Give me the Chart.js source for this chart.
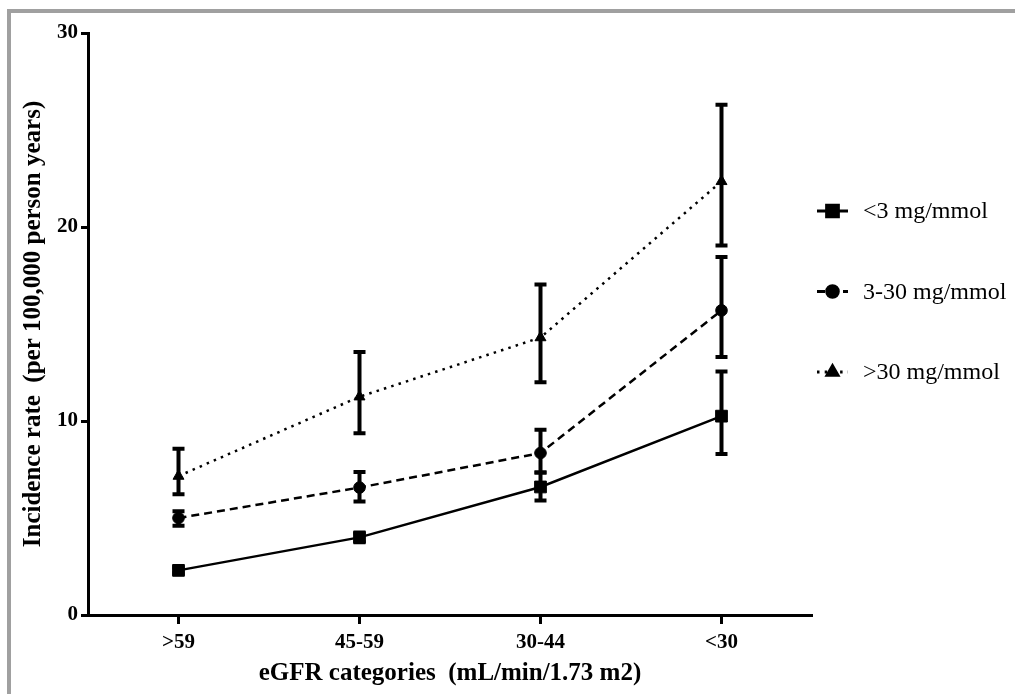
<!DOCTYPE html>
<html>
<head>
<meta charset="utf-8">
<script src="https://cdn.jsdelivr.net/npm/chart.js"></script>
<style>
  html, body { margin: 0; padding: 0; background: #fff; }
  #wrap { position: relative; width: 1015px; height: 694px; overflow: hidden; }
  #frame { position: absolute; left: 7px; top: 9px; width: 1020px; height: 700px;
           border-top: 4px solid #a0a0a0; border-left: 4px solid #a0a0a0; }
  canvas { position: absolute; left: 0; top: 0; }
</style>
</head>
<body>
<div id="wrap">
  <div id="frame"></div>
  <canvas id="chart" width="1015" height="694"></canvas>
</div>
<script>
const categories = [">59", "45-59", "30-44", "<30"];
const seriesNames = ["<3 mg/mmol", "3-30 mg/mmol", ">30 mg/mmol"];

const lowRate = [2.3, 4.0, 6.6, 10.25];
const lowLower = [2.15, 3.75, 5.9, 8.3];
const lowUpper = [2.45, 4.25, 7.35, 12.55];

const midRate = [5.0, 6.57, 8.35, 15.7];
const midLower = [4.6, 5.85, 7.35, 13.3];
const midUpper = [5.35, 7.37, 9.55, 18.46];

const highRate = [7.16, 11.25, 14.3, 22.35];
const highLower = [6.22, 9.37, 12.0, 19.05];
const highUpper = [8.57, 13.56, 17.04, 26.3];

const yTicks = [0, 10, 20, 30];

const serif = "'Liberation Serif', 'Times New Roman', serif";

// vertical error bars with caps, placed by the chart's own scales
const errorBars = {
  id: "errorBars",
  beforeDatasetsDraw(chart) {
    const ctx = chart.ctx;
    const x = chart.scales.x;
    const y = chart.scales.y;
    ctx.save();
    ctx.strokeStyle = "#000";
    ctx.lineWidth = 4;
    ctx.setLineDash([]);
    chart.data.datasets.forEach((ds) => {
      ds.data.forEach((v, i) => {
        const px = x.getPixelForValue(i);
        const top = y.getPixelForValue(ds.upper[i]);
        const bot = y.getPixelForValue(ds.lower[i]);
        ctx.beginPath();
        ctx.moveTo(px, top);
        ctx.lineTo(px, bot);
        ctx.moveTo(px - 6, top);
        ctx.lineTo(px + 6, top);
        ctx.moveTo(px - 6, bot);
        ctx.lineTo(px + 6, bot);
        ctx.stroke();
      });
    });
    ctx.restore();
  }
};

// legend to the right: short line sample with marker, then label
const sideLegend = {
  id: "sideLegend",
  afterDraw(chart) {
    const ctx = chart.ctx;
    ctx.save();
    chart.data.datasets.forEach((ds, i) => {
      const yy = 211 + i * 80.5;
      ctx.strokeStyle = "#000";
      ctx.lineWidth = 3;
      ctx.setLineDash(ds.borderDash || []);
      ctx.beginPath();
      ctx.moveTo(817, yy);
      ctx.lineTo(848, yy);
      ctx.stroke();
      ctx.setLineDash([]);
      ctx.fillStyle = "#000";
      Chart.helpers.drawPoint(ctx, {
        pointStyle: ds.pointStyle,
        radius: ds.pointRadius,
        borderWidth: 1,
        rotation: 0
      }, 832.5, yy);
      ctx.font = "24px " + serif;
      ctx.textBaseline = "middle";
      ctx.textAlign = "left";
      ctx.fillText(ds.label, 863, yy + 1);
    });
    ctx.restore();
  }
};

function makeSet(label, data, lower, upper, style, radius, dash) {
  return {
    label: label,
    data: data,
    lower: lower,
    upper: upper,
    borderColor: "#000",
    backgroundColor: "#000",
    borderWidth: 2.5,
    borderDash: dash,
    pointStyle: style,
    pointRadius: radius,
    pointBorderWidth: 1,
    pointBackgroundColor: "#000",
    pointBorderColor: "#000",
    tension: 0,
    fill: false
  };
}

new Chart(document.getElementById("chart"), {
  type: "line",
  data: {
    labels: categories,
    datasets: [
      makeSet(seriesNames[0], lowRate, lowLower, lowUpper, "rect", 8.3, []),
      makeSet(seriesNames[1], midRate, midLower, midUpper, "circle", 5.8, [8, 5]),
      makeSet(seriesNames[2], highRate, highLower, highUpper, "triangle", 6.3, [2.5, 5.2])
    ]
  },
  options: {
    responsive: false,
    animation: false,
    layout: { padding: { left: 0, top: 33, right: 203, bottom: 0 } },
    plugins: {
      legend: { display: false },
      tooltip: { enabled: false }
    },
    scales: {
      x: {
        type: "category",
        offset: true,
        afterFit: (s) => { s.height = 79; },
        grid: {
          offset: false,
          drawOnChartArea: false,
          tickLength: 9,
          tickWidth: 3,
          tickColor: "#000"
        },
        border: { color: "#000", width: 3 },
        ticks: {
          color: "#000",
          padding: 6,
          font: { family: serif, size: 21, weight: "bold" }
        },
        title: {
          display: true,
          text: "eGFR categories  (mL/min/1.73 m2)",
          color: "#000",
          padding: { top: 0, bottom: 5 },
          font: { family: serif, size: 25, weight: "bold" }
        }
      },
      y: {
        min: 0,
        max: 30,
        afterFit: (s) => { s.width = 88; },
        afterBuildTicks: (s) => { s.ticks = yTicks.map((v) => ({ value: v })); },
        grid: {
          drawOnChartArea: false,
          tickLength: 7,
          tickWidth: 3,
          tickColor: "#000"
        },
        border: { color: "#000", width: 3 },
        ticks: {
          color: "#000",
          padding: 3,
          font: { family: serif, size: 21, weight: "bold" }
        },
        title: {
          display: true,
          text: "Incidence rate  (per 100,000 person years)",
          color: "#000",
          padding: { top: 19, bottom: 0 },
          font: { family: serif, size: 25, weight: "bold" }
        }
      }
    }
  },
  plugins: [errorBars, sideLegend]
});
</script>
</body>
</html>
